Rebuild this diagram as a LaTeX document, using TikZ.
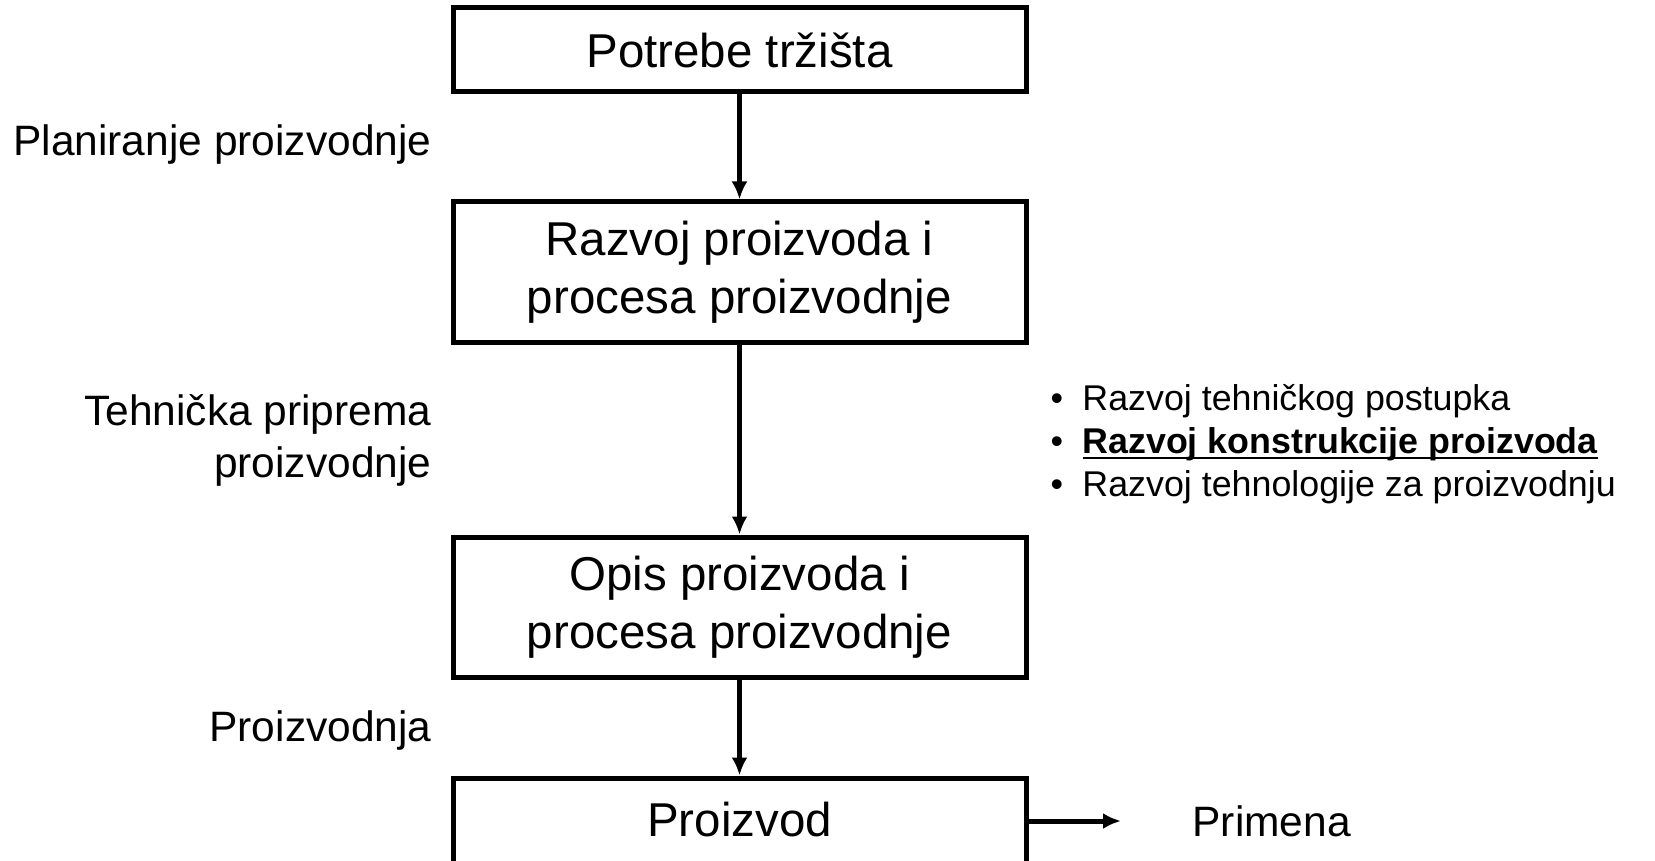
\documentclass[tikz,border=0pt]{standalone}
\usepackage{fontspec}
\setmainfont{Liberation Sans}
\usepackage{tikz}
\usetikzlibrary{arrows.meta}

\newcommand{\bul}{\makebox[32pt][l]{\textbullet}}
\newcommand{\thickul}[1]{\setbox0\hbox{#1}\rlap{\rule[-6pt]{\wd0}{2.8pt}}\box0}

\begin{document}
\begin{tikzpicture}[
		%Global config
		x=1pt, y=-1pt,
		>={Latex[length=18pt,width=16pt]},
		line width=5pt,
		color = black,
		%Styles
		Stage/.style={
			draw,
			line width=5pt,
			minimum width=573pt,
			inner sep=0pt,
			align=center,
			font=\fontsize{47.5}{58}\selectfont,
		},
		Phase/.style={
			anchor=east,
			align=right,
			inner sep=0pt,
			font=\fontsize{42.5}{52}\selectfont,
		},
		Link/.style={
			->,
			line width=5pt
			}
		]
		\useasboundingbox (0,0) rectangle (1655,861);
		\clip (0,0) rectangle (1655,861);

		% Stages
		\node[Stage, minimum height=84pt] (need) at (739.5,50) {Potrebe tržišta};
		\node[Stage, minimum height=140pt] (dev) at (739.5,272) {Razvoj proizvoda i\\procesa proizvodnje};
		\node[Stage, minimum height=140pt] (desc) at (739.5,607) {Opis proizvoda i\\procesa proizvodnje};
		\node[Stage, minimum height=86pt] (prod) at (739.5,821) {\raisebox{4pt}{Proizvod}};
		\node[anchor=west, inner sep=0pt, font=\fontsize{42.5}{52}\selectfont] (use) at (1190,821) {Primena};

		% Phases
		\node[Phase] (plan) at (434,145) {Planiranje proizvodnje};
		\node[Phase] (prep) at (434,440) {Tehnička priprema\\proizvodnje};
		\node[Phase] (make) at (434,731) {Proizvodnja};

		% Details
		\node[anchor=west, align=left, inner sep=0pt, font=\fontsize{35.8}{43}\selectfont] (tasks) at (1048,444) {%
			\bul Razvoj tehničkog postupka\\
			\bul \textbf{\thickul{Razvoj konstrukcije proizvoda}}\\
			\bul Razvoj tehnologije za proizvodnju};

		\draw[Link] (need) -- (dev);
		\draw[Link] (dev) -- (desc);
		\draw[Link] (desc) -- (prod);
		\draw[Link, shorten >=69pt] (prod.east) -- (use.west);
	\end{tikzpicture}
\end{document}
